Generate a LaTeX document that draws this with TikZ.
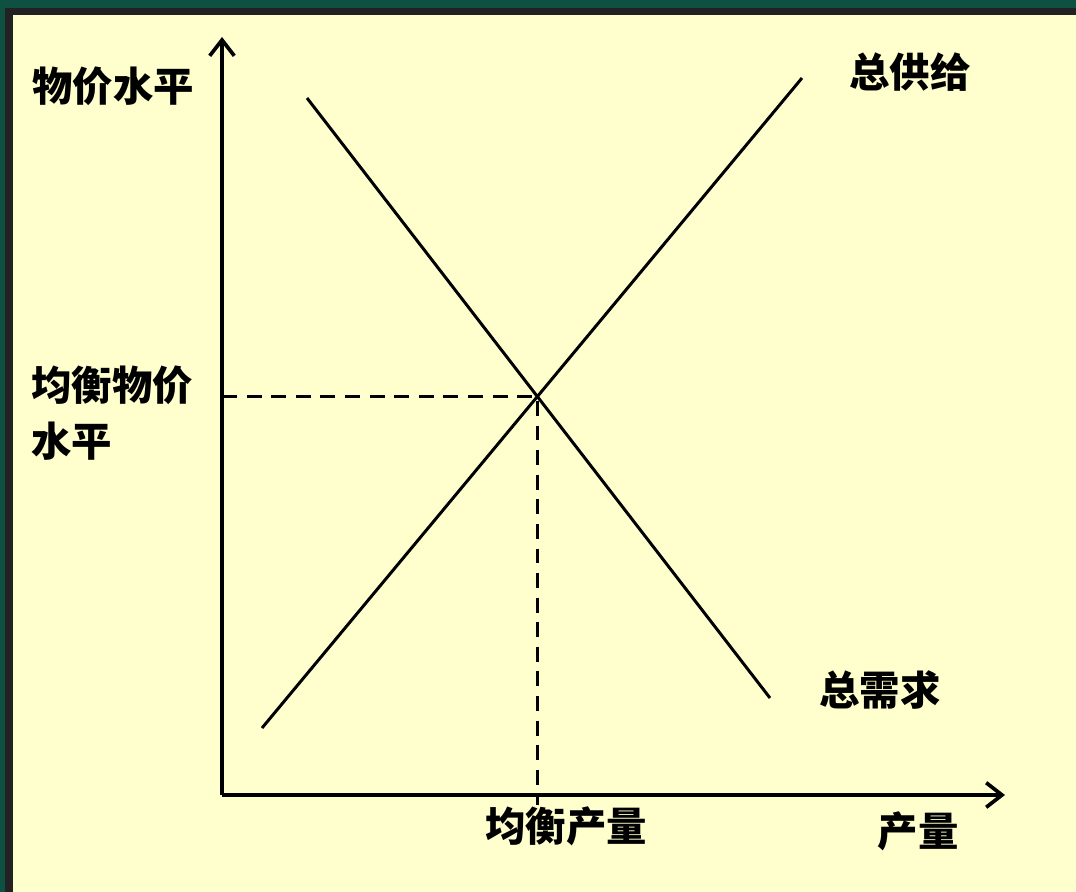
\documentclass[tikz,border=0pt]{standalone}
\usepackage{fontspec}
\newfontfamily\cjk{Noto Sans CJK SC}
\usepackage{tikz}
\usetikzlibrary{calc,arrows.meta}

\definecolor{paper}{RGB}{255,255,206}
\definecolor{frame}{RGB}{34,34,34}
\definecolor{slidegreen}{RGB}{14,80,66}

\begin{document}
\begin{tikzpicture}[x=0.02cm,y=-0.02cm,
    lbl/.style={font=\cjk\bfseries\fontsize{23}{32}\selectfont, inner sep=0pt, text=black},
    curve/.style={line width=1.7pt},
    axis/.style={line width=2.1pt, -{Straight Barb[length=9pt,width=14pt,line width=2.1pt]}},
    guide/.style={line width=1.6pt, dash pattern=on 8.5pt off 5.5pt}]
    \useasboundingbox (0,0) rectangle (1076,892);
    % background and frame
    \fill[slidegreen] (0,0) rectangle (1076,8);
    \fill[slidegreen] (0,0) rectangle (5,892);
    \fill[frame] (5,8) rectangle (1076,15);
    \fill[frame] (5,8) rectangle (13,892);
    \fill[paper] (13,15) rectangle (1076,892);
    % points
    \coordinate (O) at (222,795);
    \coordinate (Ytop) at (222,37);
    \coordinate (Xend) at (1005,795);
    \coordinate (D1) at (307,98);
    \coordinate (D2) at (770,698);
    \coordinate (S1) at (262,728);
    \coordinate (S2) at (802,78);
    \coordinate (E) at (intersection of D1--D2 and S1--S2);
    \coordinate (Ey) at (O |- E);
    \coordinate (Ex) at ($(O -| E)+(0,10)$);
    % curves
    \draw[guide] (Ey) -- (E) -- (Ex);
    \draw[curve] (D1) -- (D2);
    \draw[curve] (S1) -- (S2);
    \draw[axis] (O) -- (Ytop);
    \draw[axis] (O) -- (Xend);
    % labels
    \node[lbl] (pricelbl) at (113,86) {物价水平};
    \node[lbl, align=left, anchor=north west] (eqprice) at (31,365) {均衡物价\\水平};
    \node[lbl] (aslbl) at (910,72) {总供给};
    \node[lbl] (adlbl) at (880,690) {总需求};
    \node[lbl] (eqout) at (566,826) {均衡产量};
    \node[lbl] (outlbl) at (918,831) {产量};
\end{tikzpicture}
\end{document}
